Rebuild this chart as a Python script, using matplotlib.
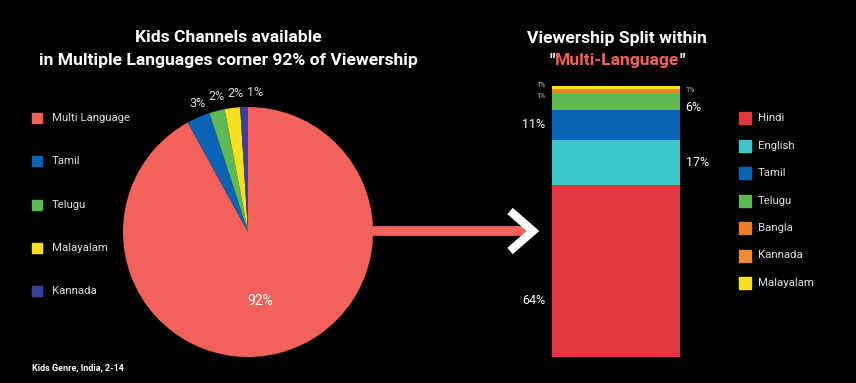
import matplotlib
matplotlib.use("agg")
from matplotlib import pyplot as plt
from matplotlib.lines import Line2D
import numpy as np

plt.rcParams["font.family"] = ["Roboto", "DejaVu Sans"]

# left pie: share of viewership by channel language
pie_labels = ["Multi Language", "Tamil", "Telugu", "Malayalam", "Kannada"]
pie_values = [92, 3, 2, 2, 1]
pie_colors = ["#F2625A", "#0B63B6", "#5DB955", "#F6E11C", "#3B3E9C"]

# right stacked bar: split within multi-language channels
bar_labels = ["Hindi", "English", "Tamil", "Telugu", "Bangla", "Kannada", "Malayalam"]
bar_values = [64, 17, 11, 6, 1, 1, 1]
bar_colors = ["#E1373F", "#3DC6CB", "#0B63B6", "#5DB955", "#F07D2A", "#EF8A33", "#F6E11C"]

W, H = 856, 383
BG = "black"
SALMON = "#F2625A"
TFS = 12.6

fig = plt.figure(figsize=(W / 100, H / 100), dpi=100, facecolor=BG)


def px(x, y):
    # pixel (from top-left) -> figure fraction
    return x / W, 1 - y / H


def box(x0, y0, x1, y1):
    return [x0 / W, 1 - y1 / H, (x1 - x0) / W, (y1 - y0) / H]


# titles
fig.text(*px(228, 38), "Kids Channels available", color="white", fontsize=TFS,
         fontweight="bold", ha="center", va="center")
fig.text(*px(228, 60), "in Multiple Languages corner 92% of Viewership", color="white",
         fontsize=TFS, fontweight="bold", ha="center", va="center")
fig.text(*px(617, 38), "Viewership Split within", color="white", fontsize=TFS,
         fontweight="bold", ha="center", va="center")
mid = fig.text(*px(617, 60), "Multi-Language", color=SALMON, fontsize=TFS,
               fontweight="bold", ha="center", va="center")
fig.canvas.draw()
ext = mid.get_window_extent()
fig.text(ext.x0 / W, 1 - 60 / H, '"', color="white", fontsize=TFS, fontweight="bold",
         ha="right", va="center")
fig.text(ext.x1 / W, 1 - 60 / H, '"', color="white", fontsize=TFS, fontweight="bold",
         ha="left", va="center")

fig.text(*px(32, 368), "Kids Genre, India, 2-14", color="white", fontsize=6.5,
         fontweight="bold", ha="left", va="center")

# pie
ax_pie = fig.add_axes(box(123, 107, 373, 357))
ax_pie.set_facecolor(BG)
wedges, _ = ax_pie.pie(pie_values, colors=pie_colors, startangle=90, counterclock=False,
                       radius=1.0)
ax_pie.set_xlim(-1, 1)
ax_pie.set_ylim(-1, 1)
ax_pie.set_aspect("equal")
ax_pie.axis("off")

# small slice labels, spread out right-to-left so they don't collide
rpx = 125.0
prev_x = None
for w, v in sorted(zip(wedges, pie_values), key=lambda t: (t[0].theta1 + t[0].theta2)):
    ang = np.deg2rad((w.theta1 + w.theta2) / 2)
    if v > 50:
        ax_pie.text(0.1, -0.55, f"{v}%", color="white", fontsize=10, ha="center", va="center")
        continue
    r = 1.12
    x = r * np.cos(ang)
    if prev_x is None:
        x += 11 / rpx
    else:
        x = min(x + 6 / rpx, prev_x - 19 / rpx)
    prev_x = x
    ax_pie.text(x, r * np.sin(ang), f"{v}%", color="#DDDDDD", fontsize=9,
                ha="center", va="center")

# left legend
for i, (lab, col) in enumerate(zip(pie_labels, pie_colors)):
    y = 118 + i * 43.3
    fig.add_artist(Line2D([37 / W], [1 - y / H], marker="s", markersize=7, color=col,
                          linestyle="none"))
    fig.text(52 / W, 1 - y / H, lab, color="#DDDDDD", fontsize=8.2, ha="left", va="center")

# arrow
fig.add_artist(Line2D([px(370, 231)[0], px(528, 231)[0]], [px(370, 231)[1]] * 2,
                      color=SALMON, linewidth=7, solid_capstyle="butt"))
fig.add_artist(Line2D([510 / W, 533 / W, 510 / W],
                      [1 - 211 / H, 1 - 231 / H, 1 - 251 / H],
                      color="white", linewidth=6, solid_joinstyle="miter",
                      solid_capstyle="butt"))

# stacked bar
ax_bar = fig.add_axes(box(552, 86, 680, 357))
ax_bar.set_facecolor(BG)
bottom = 0
total = sum(bar_values)
for i, (lab, v, col) in enumerate(zip(bar_labels, bar_values, bar_colors)):
    ax_bar.bar(0, v, bottom=bottom, width=1, color=col, label=lab)
    ly = bottom + v * (0.33 if i == 0 else 0.5)
    left = i % 2 == 0
    small = v < 2
    dy = 0
    if small:
        dy = 1 if lab == "Malayalam" else (-3 if lab == "Bangla" else 0)
    elif lab == "Telugu":
        dy = -4
    ax_bar.annotate(f"{v}%", xy=(-0.5 if left else 0.5, ly),
                    xytext=(-5 if left else 4, dy), textcoords="offset points",
                    color="white" if not small else "#CCCCCC",
                    fontsize=5 if small else 9, ha="right" if left else "left",
                    va="center", annotation_clip=False)
    bottom += v
ax_bar.set_xlim(-0.5, 0.5)
ax_bar.set_ylim(0, total)
ax_bar.axis("off")

# right legend
for i, (lab, col) in enumerate(zip(bar_labels, bar_colors)):
    y = 118 + i * 27.5
    fig.add_artist(Line2D([745 / W], [1 - y / H], marker="s", markersize=8, color=col,
                          linestyle="none"))
    fig.text(758 / W, 1 - y / H, lab, color="#DDDDDD", fontsize=8.2, ha="left", va="center")

fig.savefig("out.png", dpi=100, facecolor=BG)
